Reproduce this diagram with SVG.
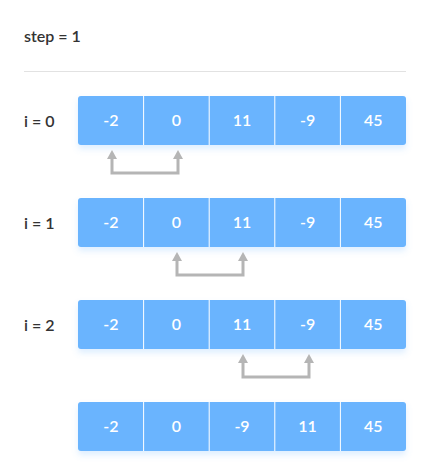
<svg xmlns="http://www.w3.org/2000/svg" width="431" height="476" viewBox="0 0 431 476">
<defs>
<filter id="sh" x="-10%" y="-20%" width="120%" height="160%">
<feDropShadow dx="0" dy="4" stdDeviation="3" flood-color="#6ab4fe" flood-opacity="0.22"/>
</filter>
<style>
.lbl{font-family:Lato,"Liberation Sans",sans-serif;font-weight:600;font-size:16px;fill:#333333}
.box{fill:#6ab4fe}
.div{stroke:#ffffff;stroke-width:1}
.num{font-family:Lato,"Liberation Sans",sans-serif;font-weight:600;font-size:16px;fill:#ffffff;text-anchor:middle}
.ln{fill:none;stroke:#b5b5b5;stroke-width:3}
.hd{fill:#b5b5b5}
</style>
</defs>
<rect width="431" height="476" fill="#ffffff"/>
<text class="lbl" x="24" y="42">step = 1</text>
<line x1="24" y1="71.5" x2="406" y2="71.5" stroke="#e2e2e2" stroke-width="1"/>

<g id="row0">
<text class="lbl" x="24" y="127">i = 0</text>
<rect class="box" x="78" y="96" width="328" height="49" rx="3" filter="url(#sh)"/>
<line class="div" x1="143.6" y1="96" x2="143.6" y2="145"/>
<line class="div" x1="209.2" y1="96" x2="209.2" y2="145"/>
<line class="div" x1="274.8" y1="96" x2="274.8" y2="145"/>
<line class="div" x1="340.4" y1="96" x2="340.4" y2="145"/>
<text class="num" x="110.8" y="126">-2</text>
<text class="num" x="176.4" y="126">0</text>
<text class="num" x="242" y="126">11</text>
<text class="num" x="307.6" y="126">-9</text>
<text class="num" x="373.2" y="126">45</text>
</g>

<g id="row1">
<text class="lbl" x="24" y="229">i = 1</text>
<rect class="box" x="78" y="198" width="328" height="49" rx="3" filter="url(#sh)"/>
<line class="div" x1="143.6" y1="198" x2="143.6" y2="247"/>
<line class="div" x1="209.2" y1="198" x2="209.2" y2="247"/>
<line class="div" x1="274.8" y1="198" x2="274.8" y2="247"/>
<line class="div" x1="340.4" y1="198" x2="340.4" y2="247"/>
<text class="num" x="110.8" y="228">-2</text>
<text class="num" x="176.4" y="228">0</text>
<text class="num" x="242" y="228">11</text>
<text class="num" x="307.6" y="228">-9</text>
<text class="num" x="373.2" y="228">45</text>
</g>

<g id="row2">
<text class="lbl" x="24" y="331">i = 2</text>
<rect class="box" x="78" y="300" width="328" height="49" rx="3" filter="url(#sh)"/>
<line class="div" x1="143.6" y1="300" x2="143.6" y2="349"/>
<line class="div" x1="209.2" y1="300" x2="209.2" y2="349"/>
<line class="div" x1="274.8" y1="300" x2="274.8" y2="349"/>
<line class="div" x1="340.4" y1="300" x2="340.4" y2="349"/>
<text class="num" x="110.8" y="330">-2</text>
<text class="num" x="176.4" y="330">0</text>
<text class="num" x="242" y="330">11</text>
<text class="num" x="307.6" y="330">-9</text>
<text class="num" x="373.2" y="330">45</text>
</g>

<g id="row3">
<rect class="box" x="78" y="402" width="328" height="49" rx="3" filter="url(#sh)"/>
<line class="div" x1="143.6" y1="402" x2="143.6" y2="451"/>
<line class="div" x1="209.2" y1="402" x2="209.2" y2="451"/>
<line class="div" x1="274.8" y1="402" x2="274.8" y2="451"/>
<line class="div" x1="340.4" y1="402" x2="340.4" y2="451"/>
<text class="num" x="110.8" y="432">-2</text>
<text class="num" x="176.4" y="432">0</text>
<text class="num" x="242" y="432">-9</text>
<text class="num" x="307.6" y="432">11</text>
<text class="num" x="373.2" y="432">45</text>
</g>

<g id="connectors">
<polyline class="ln" points="112,158 112,173 178,173 178,158"/>
<polygon class="hd" points="107,159 112,150 117,159"/>
<polygon class="hd" points="173,159 178,150 183,159"/>

<polyline class="ln" points="177,260 177,275 243,275 243,260"/>
<polygon class="hd" points="172,261 177,252 182,261"/>
<polygon class="hd" points="238,261 243,252 248,261"/>

<polyline class="ln" points="243,362 243,377 309,377 309,362"/>
<polygon class="hd" points="238,363 243,354 248,363"/>
<polygon class="hd" points="304,363 309,354 314,363"/>
</g>
</svg>
